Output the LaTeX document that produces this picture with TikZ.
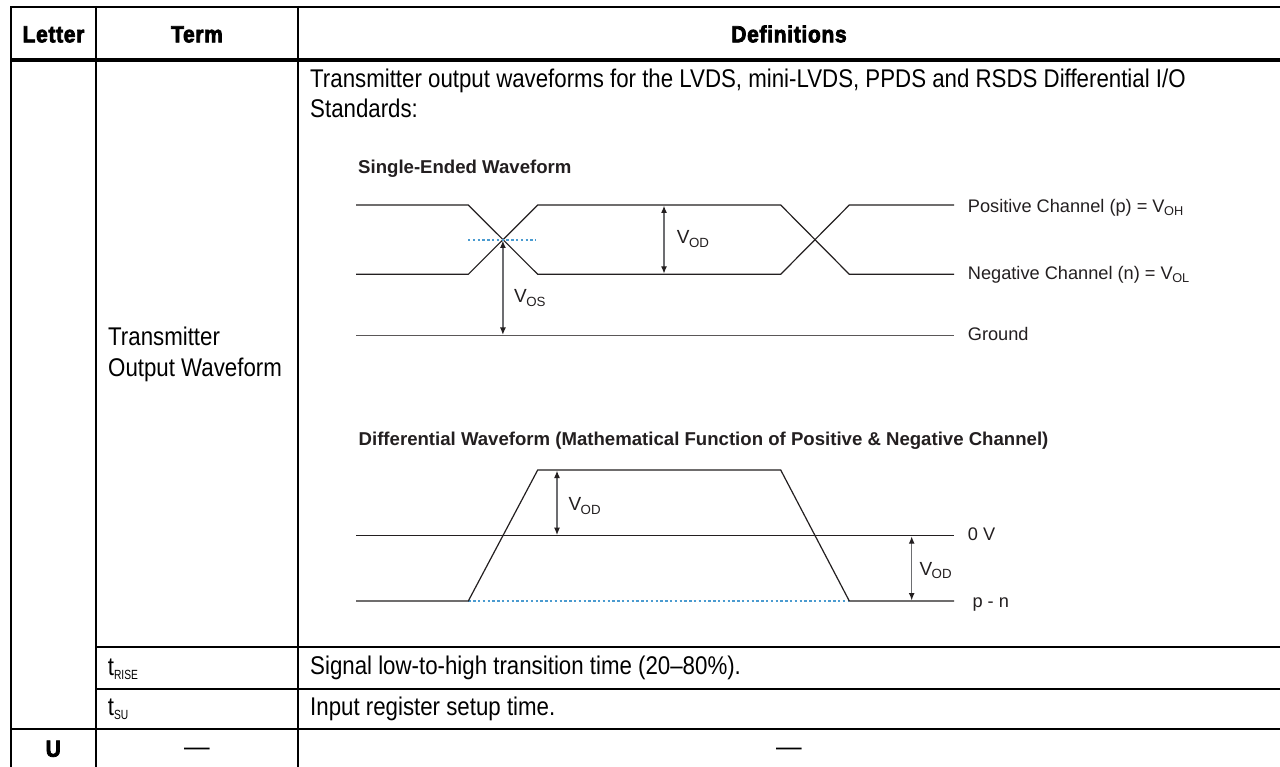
\documentclass[tikz,border=0pt]{standalone}
\usepackage{fontspec}
\usetikzlibrary{arrows.meta}
\setmainfont{Liberation Sans}
\newfontfamily\tblfont[FakeStretch=0.87]{Liberation Sans}
\newfontfamily\subfont[FakeStretch=0.77]{Liberation Sans}
\newfontfamily\hdrfont[FakeStretch=0.90,FakeBold=3.2,LetterSpace=3]{Liberation Sans Bold}
\definecolor{ink}{HTML}{231F20}
\definecolor{shaft}{HTML}{6D6E71}
\definecolor{dotblue}{HTML}{4A9BD0}
\tikzset{
  x=1pt,y=-1pt,
  rule/.style={line width=2pt,black},
  thickrule/.style={line width=3.4pt,black},
  wave/.style={line width=1.2pt,ink,line join=miter},
  dim/.style={line width=1.4pt,shaft,{Latex[length=7.5pt,width=6pt,ink]}-{Latex[length=7.5pt,width=6pt,ink]},shorten <=0.2pt,shorten >=0.2pt},
  dotline/.style={line width=1.2pt,dotblue,dash pattern=on 2.4pt off 2.4pt},
  cell/.style={inner sep=0pt,anchor=base west,font=\tblfont\fontsize{25.6}{30}\selectfont,text=black},
  head/.style={inner sep=0pt,anchor=base,font=\hdrfont\fontsize{23.3}{28}\selectfont,text=black},
  dashcell/.style={inner sep=0pt,anchor=base,font=\fontsize{25.6}{30}\selectfont,text=black},
  lab/.style={inner sep=0pt,anchor=base west,font=\fontsize{18.2}{22}\selectfont,text=ink},
  biglab/.style={inner sep=0pt,anchor=base west,font=\fontsize{19}{23}\selectfont,text=ink},
  ttl/.style={inner sep=0pt,anchor=base west,font=\bfseries\fontsize{18.6}{22}\selectfont,text=ink},
}
\newcommand{\Vsub}[1]{V\textsubscript{\kern-0.5pt #1}}
\newcommand{\tsub}[1]{t{\subfont\fontsize{13.3}{14}\selectfont\raisebox{-4.3pt}{#1}}}
\begin{document}
\begin{tikzpicture}
\useasboundingbox (0,0) rectangle (1280,767);
\fill[white] (0,0) rectangle (1280,767);
% table grid
\coordinate (tl) at (10,7.5); \coordinate (tr) at (1280,7.5);
\coordinate (hl) at (10,60);  \coordinate (hr) at (1280,60);
\coordinate (ll1) at (11,7); \coordinate (ll2) at (11,767);
\coordinate (a1) at (95.7,6);  \coordinate (a2) at (95.7,767);
\coordinate (b1) at (297.7,6); \coordinate (b2) at (297.7,767);
\coordinate (r1l) at (95.7,646.7); \coordinate (r1r) at (1280,646.7);
\coordinate (r2l) at (95.7,689); \coordinate (r2r) at (1280,689);
\coordinate (r3l) at (10,729.3); \coordinate (r3r) at (1280,729.3);
\draw[rule] (tl) -- (tr);
\draw[thickrule] (hl) -- (hr);
\draw[rule] (ll1) -- (ll2);
\draw[rule] (a1) -- (a2);
\draw[rule] (b1) -- (b2);
\draw[rule] (r1l) -- (r1r);
\draw[rule] (r2l) -- (r2r);
\draw[rule] (r3l) -- (r3r);
% header
\node[head] (hLetter) at (53.5,42.3) {Letter};
\node[head] (hTerm) at (197,42.3) {Term};
\node[head] (hDef) at (789,42.3) {Definitions};
% cells
\node[cell] (intro1) at (310,87.3) {Transmitter output waveforms for the LVDS, mini-LVDS, PPDS and RSDS Differential I/O};
\node[cell] (intro2) at (310,118) {Standards:};
\node[cell] (term1) at (108,345) {Transmitter};
\node[cell] (term2) at (108,376) {Output Waveform};
\node[cell] (trise) at (107.7,675) {\tsub{RISE}};
\node[cell] (tsu) at (107.7,715.5) {\tsub{SU}};
\node[cell] (drise) at (310,674.3) {Signal low-to-high transition time (20–80\%).};
\node[cell] (dsu) at (310,715) {Input register setup time.};
\node[head] (lU) at (53.3,756.7) {U};
\node[dashcell] (dashA) at (197,755.5) {—};
\node[dashcell] (dashB) at (789,755.5) {—};
% single-ended
\node[ttl] (t1) at (358,174) {Single-Ended Waveform};
\coordinate (s1) at (356,205); \coordinate (s2) at (468.3,205);
\coordinate (s3) at (537.7,274.3); \coordinate (s4) at (780.7,274.3);
\coordinate (s5) at (849.3,205); \coordinate (s6) at (954,205);
\coordinate (n1) at (356,274.3); \coordinate (n2) at (468.3,274.3);
\coordinate (n3) at (537.7,205); \coordinate (n4) at (780.7,205);
\coordinate (n5) at (849.3,274.3); \coordinate (n6) at (954,274.3);
\draw[wave] (s1) -- (s2) -- (s3) -- (s4) -- (s5) -- (s6);
\draw[wave] (n1) -- (n2) -- (n3) -- (n4) -- (n5) -- (n6);
\coordinate (g1) at (356,335.7); \coordinate (g2) at (954,335.7);
\draw[wave,line width=1.4pt,color=ink!75!white] (g1) -- (g2);
\coordinate (d1) at (468,240); \coordinate (d2) at (536,240);
\draw[dotline] (d1) -- (d2);
\coordinate (os1) at (502.9,240.3); \coordinate (os2) at (502.9,335.2);
\draw[dim] (os1) -- (os2);
\coordinate (od1) at (664,205.3); \coordinate (od2) at (664,274);
\draw[dim] (od1) -- (od2);
\node[biglab] (vod1) at (676.7,244) {\Vsub{OD}};
\node[biglab] (vos) at (514,302.7) {\Vsub{OS}};
\node[lab] (lp) at (967.7,212.3) {Positive Channel (p) = \Vsub{OH}};
\node[lab] (ln) at (967.7,279.3) {Negative Channel (n) = \Vsub{OL}};
\node[lab] (lg) at (967.7,341) {Ground};
% differential
\node[ttl] (t2) at (358.5,445) {Differential Waveform (Mathematical Function of Positive \& Negative Channel)};
\coordinate (p1) at (356,601); \coordinate (p2) at (468.3,601);
\coordinate (p3) at (537.7,470); \coordinate (p4) at (780.7,470);
\coordinate (p5) at (849.3,601); \coordinate (p6) at (954,601);
\draw[dotline] (p2) -- (p5);
\draw[wave] (p1) -- (p2) -- (p3) -- (p4) -- (p5) -- (p6);
\coordinate (z1) at (356,535.7); \coordinate (z2) at (954,535.7);
\draw[wave] (z1) -- (z2);
\coordinate (da1) at (557,470.3); \coordinate (da2) at (557,535.4);
\draw[dim] (da1) -- (da2);
\coordinate (db1) at (911.7,536); \coordinate (db2) at (911.7,600.7);
\draw[dim] (db1) -- (db2);
\node[biglab] (vod2) at (568.3,510.7) {\Vsub{OD}};
\node[biglab] (vod3) at (919.3,575) {\Vsub{OD}};
\node[lab] (l0) at (967.7,540) {0 V};
\node[lab] (lpn) at (972.3,607) {p - n};
\end{tikzpicture}
\end{document}
